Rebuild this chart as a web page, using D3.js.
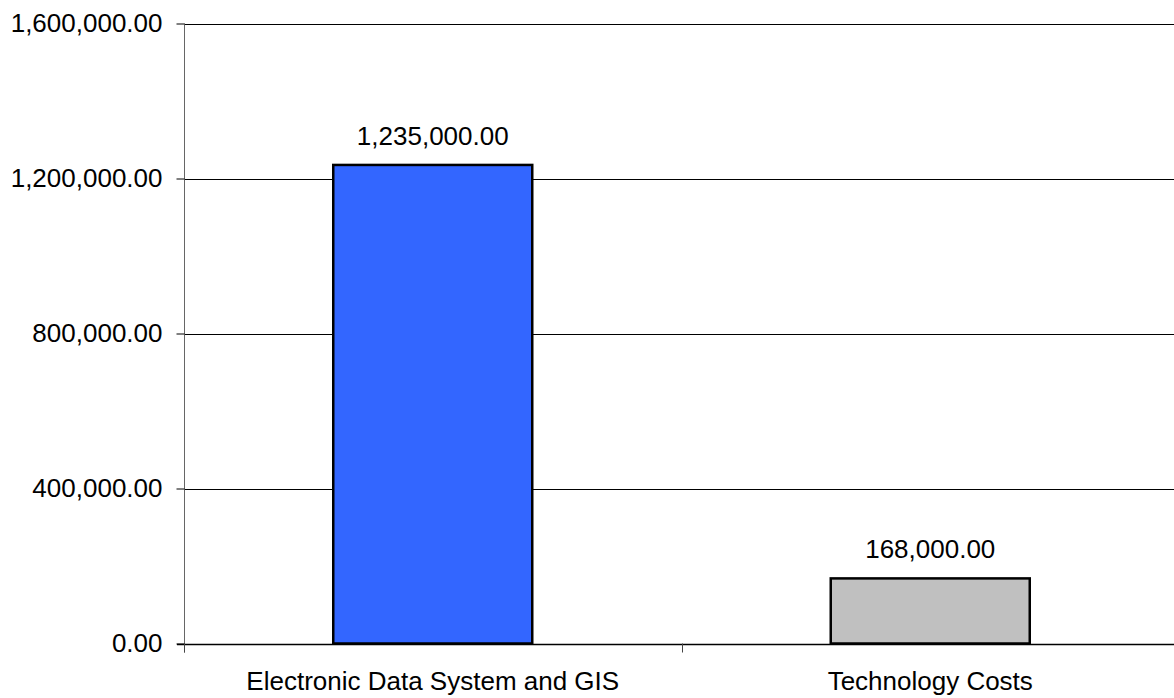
<!DOCTYPE html>
<html>
<head>
<meta charset="utf-8">
<script src="https://cdn.jsdelivr.net/npm/d3@7/dist/d3.min.js"></script>
<style>
  html, body { margin: 0; padding: 0; background: #fff; }
  svg { display: block; font-family: "Liberation Sans", Arial, sans-serif; }
</style>
</head>
<body>
<svg id="chart" width="1174" height="698"></svg>
<script>
// Budget categories and amounts
const categories = ["Electronic Data System and GIS", "Technology Costs"];
const amounts = [1235000, 168000];
const barColors = ["#3366FF", "#C0C0C0"];
const yTicks = [0, 400000, 800000, 1200000, 1600000];

(function () {
  const svg = d3.select("#chart");
  const plotLeft = 185, plotRight = 1180, plotTop = 23.5, plotBottom = 643.5;

  const x = d3.scaleBand().domain(categories).range([plotLeft, plotRight]).padding(0);
  const y = d3.scaleLinear().domain([0, 1600000]).range([plotBottom, plotTop]);
  const fmt = d3.format(",.2f");

  // horizontal gridlines
  svg.append("g")
    .selectAll("line")
    .data(yTicks.filter(d => d > 0))
    .join("line")
    .attr("x1", plotLeft).attr("x2", plotRight)
    .attr("y1", d => Math.round(y(d)) + 0.5)
    .attr("y2", d => Math.round(y(d)) + 0.5)
    .attr("stroke", "#000").attr("stroke-width", 1);

  // y axis
  const yAxis = svg.append("g")
    .attr("transform", `translate(${plotLeft - 0.5},0)`)
    .call(d3.axisLeft(y).tickValues(yTicks).tickFormat(fmt).tickSize(8).tickPadding(14));
  yAxis.select(".domain").attr("stroke", "#666").attr("d", `M0,${plotTop}V${plotBottom + 9}`);
  yAxis.selectAll(".tick line").attr("stroke", "#000");
  yAxis.selectAll(".tick text")
    .attr("font-size", 26).attr("fill", "#000")
    .attr("font-family", "Liberation Sans, Arial, sans-serif");

  // bars
  const barW = x.bandwidth() * 0.4;
  svg.append("g")
    .selectAll("rect")
    .data(amounts)
    .join("rect")
    .attr("x", (d, i) => x(categories[i]) + x.bandwidth() / 2 - barW / 2 - 1)
    .attr("y", d => y(d))
    .attr("width", barW)
    .attr("height", d => y(0) - y(d))
    .attr("fill", (d, i) => barColors[i])
    .attr("stroke", "#000").attr("stroke-width", 2.5);

  // value labels
  svg.append("g")
    .selectAll("text")
    .data(amounts)
    .join("text")
    .attr("x", (d, i) => x(categories[i]) + x.bandwidth() / 2 - 1)
    .attr("y", d => y(d) - 20)
    .attr("text-anchor", "middle")
    .attr("font-size", 26)
    .attr("fill", "#000")
    .text(d => fmt(d));

  // x axis
  svg.append("line")
    .attr("x1", plotLeft - 8).attr("x2", plotRight)
    .attr("y1", Math.round(plotBottom) + 0.5).attr("y2", Math.round(plotBottom) + 0.5)
    .attr("stroke", "#000").attr("stroke-width", 1.5);

  const boundaries = [plotLeft, ...categories.map(c => x(c) + x.bandwidth())];
  svg.append("g")
    .selectAll("line")
    .data(boundaries)
    .join("line")
    .attr("x1", d => Math.round(d) - 0.5).attr("x2", d => Math.round(d) - 0.5)
    .attr("y1", plotBottom).attr("y2", plotBottom + 9)
    .attr("stroke", "#444").attr("stroke-width", 1);

  svg.append("g")
    .selectAll("text")
    .data(categories)
    .join("text")
    .attr("x", d => x(d) + x.bandwidth() / 2 - 1)
    .attr("y", plotBottom + 46)
    .attr("text-anchor", "middle")
    .attr("font-size", 26)
    .attr("fill", "#000")
    .text(d => d);
})();
</script>
</body>
</html>
